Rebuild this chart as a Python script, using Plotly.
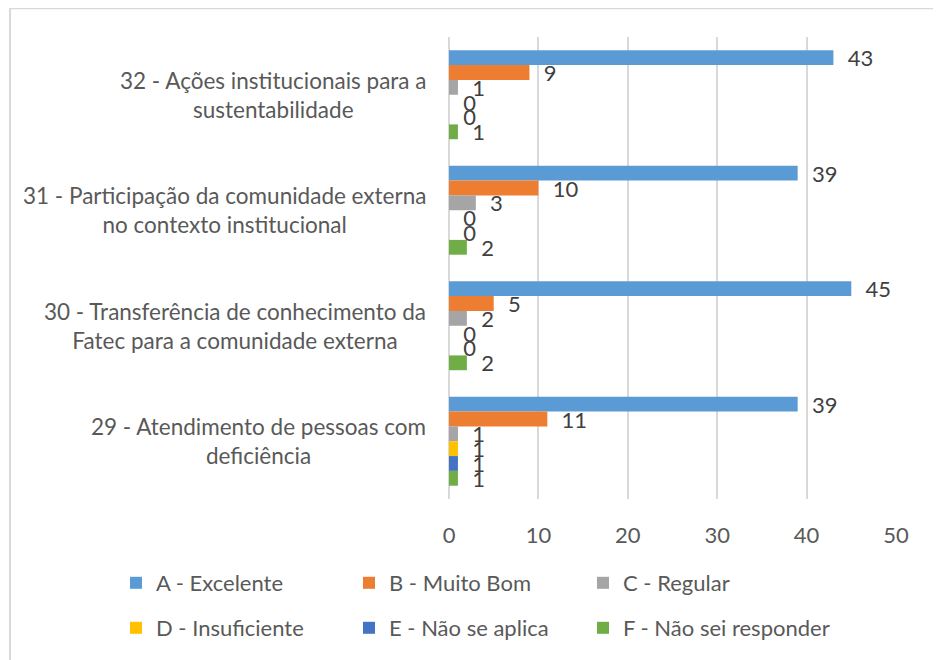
import plotly.graph_objects as go

# Questions (top to bottom) and answer series
categories = [
    "32 - Ações institucionais para a<br>sustentabilidade",
    "31 - Participação da comunidade externa<br>no contexto institucional",
    "30 - Transferência de conhecimento da<br>Fatec para a comunidade externa",
    "29 - Atendimento de pessoas com<br>deficiência",
]
series_names = ["A - Excelente", "B - Muito Bom", "C - Regular",
                "D - Insuficiente", "E - Não se aplica", "F - Não sei responder"]
a_excelente = [43, 39, 45, 39]
b_muito_bom = [9, 10, 5, 11]
c_regular = [1, 3, 2, 1]
d_insuficiente = [0, 0, 0, 1]
e_nao_aplica = [0, 0, 0, 1]
f_nao_sei = [1, 2, 2, 1]

series_values = [a_excelente, b_muito_bom, c_regular, d_insuficiente, e_nao_aplica, f_nao_sei]
colors = ["#5B9BD5", "#ED7D31", "#A5A5A5", "#FFC000", "#4472C4", "#70AD47"]

FONT = "Lato, Open Sans, sans-serif"
W, H = 933, 652  # page adds an 8px body margin

fig = go.Figure()
legend_ids = ["legend", "legend2", "legend3", "legend4", "legend5", "legend6"]
for name, vals, col, lg in zip(series_names, series_values, colors, legend_ids):
    fig.add_trace(go.Bar(
        y=categories, x=vals, name=name, orientation="h",
        marker=dict(color=col, line=dict(width=0)),
        text=vals, texttemplate="\u00a0\u00a0%{x}", textposition="outside",
        textfont=dict(family=FONT, size=22, color="#404040"),
        constraintext="none", cliponaxis=False,
        legend=lg,
    ))

# category labels, centred lines inside a right-aligned block
for cat in categories:
    fig.add_annotation(x=0, xref="paper", y=cat, yref="y", xshift=-21,
                       text=cat, showarrow=False, xanchor="right", align="center",
                       font=dict(family=FONT, size=22.5, color="#595959"))

# outer chart frame
fig.add_shape(type="rect", xref="paper", yref="paper",
              x0=-0.982, x1=1.0917, y0=-0.4, y1=1.062,
              line=dict(color="#d9d9d9", width=2), layer="below")

# one legend per entry: 3 columns x 2 rows
legend_cols = [108, 341, 575]
legend_rows = [575, 620]
legends = {}
for i, lg in enumerate(legend_ids):
    legends[lg] = dict(
        orientation="h", xref="container", yref="container",
        x=legend_cols[i % 3] / W, y=1 - legend_rows[i // 3] / H,
        xanchor="left", yanchor="middle",
        font=dict(family=FONT, size=22, color="#595959"),
        bgcolor="rgba(0,0,0,0)",
    )

fig.update_layout(
    width=W, height=H,
    margin=dict(l=441, r=45, t=29, b=161),
    paper_bgcolor="white", plot_bgcolor="white",
    barmode="group", bargap=0.23, bargroupgap=0,
    showlegend=True,
    **legends,
    xaxis=dict(range=[0, 50], dtick=10, showgrid=True, gridcolor="#d9d9d9",
               gridwidth=1.5, zeroline=True, zerolinecolor="#d9d9d9", zerolinewidth=1.5,
               showline=False, ticks="outside", ticklen=17, tickcolor="rgba(0,0,0,0)",
               tickfont=dict(family=FONT, size=22, color="#595959")),
    yaxis=dict(autorange="reversed", showticklabels=False, showgrid=False,
               zeroline=False, showline=False),
)

fig.write_html("out.html")
